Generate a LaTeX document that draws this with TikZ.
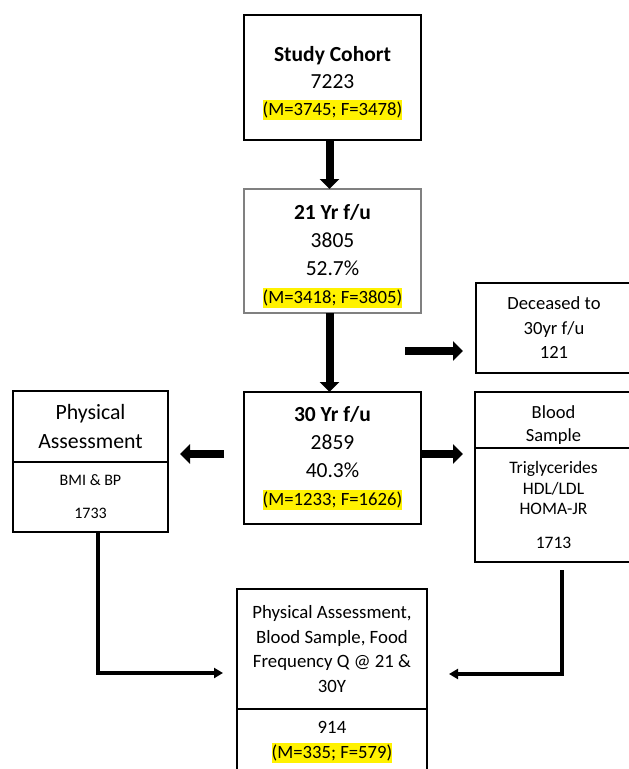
\documentclass[tikz,border=0pt]{standalone}
\usepackage{fontspec}
\setmainfont{Carlito}
\usetikzlibrary{arrows.meta,positioning}

% yellow marker behind the M/F counts
\newcommand{\hlite}[1]{{\fontsize{18.7}{22}\selectfont\setlength{\fboxsep}{0pt}\colorbox{yellow}{\rule[-0.24em]{0pt}{1.06em}#1}}}

\tikzset{
  box/.style={draw, line width=2.5pt, align=center, inner sep=0pt, outer sep=0pt},
  bigarrow/.style={line width=8pt, -{Triangle[length=10pt,width=19pt]}},
  thinarrow/.style={line width=4pt, -{Triangle[length=9pt,width=10pt]}},
}

\begin{document}
\begin{tikzpicture}[x=1pt,y=-1pt]
  \useasboundingbox (0,0) rectangle (629,769);

  % main column
  \node[box, minimum width=177, minimum height=125, font=\fontsize{21.5}{27}\selectfont] (cohort) at (332.5,77.5)
    {\rule{0pt}{27pt}\textbf{Study Cohort}\\7223\\\hlite{(M=3745; F=3478)}};
  \node[box, draw=gray, line width=1.3pt, minimum width=177, minimum height=124, font=\fontsize{21.5}{28}\selectfont] (y21) at (332.5,251)
    {\rule{0pt}{25pt}\textbf{21 Yr f/u}\\3805\\52.7\%\\\hlite{(M=3418; F=3805)}};
  \node[box, minimum width=177, minimum height=132, font=\fontsize{21.5}{28}\selectfont] (y30) at (332.5,458)
    {\textbf{30 Yr f/u}\\2859\\40.3\%\\\hlite{(M=1233; F=1626)}};

  % right side
  \node[box, minimum width=156, minimum height=90, font=\fontsize{18.6}{24.5}\selectfont] (dec) at (554,328)
    {Deceased to\\30yr f/u\\121};
  \node[box, minimum width=157, minimum height=56, font=\fontsize{18.5}{23}\selectfont] (bloodtop) at (553.5,420)
    {\rule{0pt}{23pt}Blood\\Sample};
  \node[box, minimum width=157, minimum height=114, font=\fontsize{17.5}{20.5}\selectfont, below=0pt of bloodtop] (bloodbot)
    {Triglycerides\\HDL/LDL\\HOMA-JR\\[13pt]1713};

  % left side
  \node[box, minimum width=155, minimum height=71, font=\fontsize{21.8}{29}\selectfont] (phystop) at (90.5,426.5)
    {Physical\\Assessment};
  \node[box, minimum width=155, minimum height=70, font=\fontsize{16}{33}\selectfont, below=0pt of phystop] (physbot)
    {BMI \& BP\\1733};

  % bottom
  \node[box, minimum width=190, minimum height=120, font=\fontsize{18.8}{24.7}\selectfont] (finaltop) at (332,649)
    {Physical Assessment,\\Blood Sample, Food\\Frequency Q @ 21 \&\\30Y};
  \node[box, minimum width=190, minimum height=66, font=\fontsize{18.8}{25}\selectfont, below=0pt of finaltop] (finalbot)
    {914\\\hlite{(M=335; F=579)}};

  % arrows
  \coordinate (decfrom) at (405,351);
  \draw[bigarrow] ([xshift=-3pt]cohort.south) -- ([xshift=-3pt]y21.north);
  \draw[bigarrow] ([xshift=-3pt]y21.south) -- ([xshift=-3pt]y30.north);
  \draw[bigarrow, shorten >=13pt] (decfrom) -- (decfrom -| dec.west);
  \draw[bigarrow, shorten >=12pt] ([yshift=4pt]y30.east) -- ([yshift=4pt]y30.east -| bloodtop.west);
  \draw[bigarrow, shorten <=20pt, shorten >=12pt] ([yshift=4pt]y30.west) -- ([yshift=4pt]y30.west -| phystop.east);

  \draw[thinarrow, shorten >=14pt] ([xshift=7pt]physbot.south) |- ([yshift=-24pt]finaltop.west);
  \draw[thinarrow, shorten <=8pt, shorten >=22pt] ([xshift=8pt]bloodbot.south) |- ([yshift=-25pt]finaltop.east);
\end{tikzpicture}
\end{document}
